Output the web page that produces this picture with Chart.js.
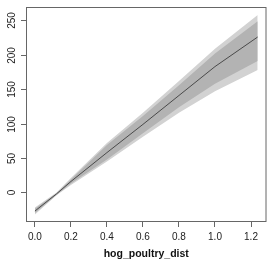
<!DOCTYPE html>
<html>
<head>
<meta charset="utf-8">
<script src="https://cdn.jsdelivr.net/npm/chart.js@4/dist/chart.umd.min.js"></script>
<style>
  html, body { margin: 0; padding: 0; background: #fff; }
  #wrap { width: 267px; height: 264px; }
</style>
</head>
<body>
<div id="wrap"><canvas id="myChart"></canvas></div>
<script>
const xs = [0, 0.12, 0.2, 0.4, 0.6, 0.8, 1.0, 1.237];
const fit = [-27, -2, 16, 58, 99, 141, 183, 226];
const innerUpper = [-23.5, -1, 19, 69, 111, 156, 202, 249];
const innerLower = [-30, -3.5, 13, 48, 86, 124, 158, 191];
const outerUpper = [-22, 0, 21, 72, 116, 162, 209, 258];
const outerLower = [-32, -4, 11, 45, 81, 116, 147, 178];

const xTicks = [0, 0.2, 0.4, 0.6, 0.8, 1.0, 1.2];
const yTicks = [0, 50, 100, 150, 200, 250];
const xTitle = 'hog_poultry_dist';

const pts = ys => xs.map((x, i) => ({ x: x, y: ys[i] }));

const band = (ys, color, target, order) => ({
  data: pts(ys),
  borderWidth: 0,
  pointRadius: 0,
  backgroundColor: color,
  fill: target === null ? false : { target: target },
  order: order,
});

// box round the plot, y tick marks and rotated y labels, R style
const rStyle = {
  id: 'rStyle',
  afterDraw(chart) {
    const { ctx, chartArea, scales } = chart;
    ctx.save();
    ctx.strokeStyle = '#666';
    ctx.lineWidth = 1;
    ctx.strokeRect(chartArea.left + 0.5, chartArea.top + 0.5,
      chartArea.right - chartArea.left - 1, chartArea.bottom - chartArea.top - 1);
    ctx.fillStyle = '#222';
    ctx.font = '10px "Liberation Sans", Arial, sans-serif';
    ctx.textAlign = 'center';
    ctx.textBaseline = 'middle';
    yTicks.forEach(v => {
      const py = Math.round(scales.y.getPixelForValue(v)) + 0.5;
      ctx.beginPath();
      ctx.moveTo(chartArea.left - 5, py);
      ctx.lineTo(chartArea.left, py);
      ctx.stroke();
      ctx.save();
      ctx.translate(12, py);
      ctx.rotate(-Math.PI / 2);
      ctx.fillText(String(v), 0, 0);
      ctx.restore();
    });
    ctx.restore();
  },
};

const config = {
  type: 'line',
  data: {
    datasets: [
      { data: pts(fit), borderColor: '#4a4a4a', borderWidth: 1, pointRadius: 0, fill: false, order: 0 },
      band(innerUpper, 'rgb(179,179,179)', 2, 1),
      band(innerLower, 'rgba(0,0,0,0)', null, 1),
      band(outerUpper, 'rgb(210,210,210)', 4, 2),
      band(outerLower, 'rgba(0,0,0,0)', null, 2),
    ],
  },
  options: {
    responsive: true,
    maintainAspectRatio: false,
    animation: false,
    layout: { padding: { top: 7, right: 0.5, left: 0, bottom: 0 } },
    plugins: { legend: { display: false }, tooltip: { enabled: false } },
    scales: {
      x: {
        type: 'linear',
        min: -0.0495,
        max: 1.286,
        afterBuildTicks: s => { s.ticks = xTicks.map(v => ({ value: v })); },
        afterFit: s => { s.height = 42; },
        grid: { drawOnChartArea: false, drawTicks: true, tickLength: 5, color: '#666' },
        border: { display: false },
        ticks: {
          padding: 4,
          color: '#222',
          font: { family: '"Liberation Sans", Arial, sans-serif', size: 10 },
          maxRotation: 0,
          callback: v => v.toFixed(1),
        },
        title: {
          display: true,
          text: xTitle,
          color: '#111',
          font: { family: '"Liberation Sans", Arial, sans-serif', size: 10.5, weight: 'bold' },
          padding: { top: 0, bottom: 4 },
        },
      },
      y: {
        type: 'linear',
        min: -42.9,
        max: 269.6,
        afterBuildTicks: s => { s.ticks = yTicks.map(v => ({ value: v })); },
        afterFit: s => { s.width = 26; },
        grid: { display: false },
        border: { display: false },
        ticks: { display: false },
      },
    },
  },
  plugins: [rStyle],
};

new Chart(document.querySelector('#myChart'), config);
</script>
</body>
</html>
